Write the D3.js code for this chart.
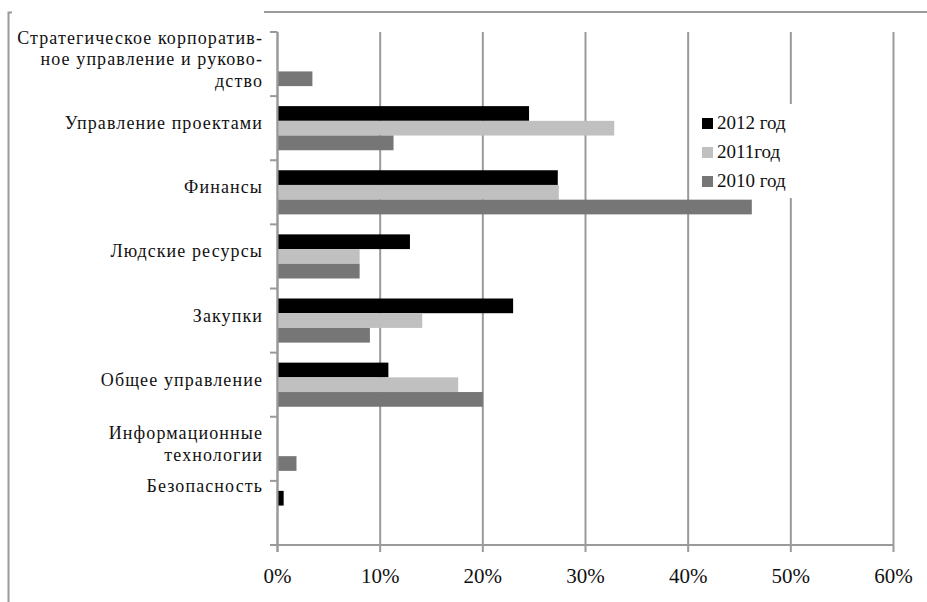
<!DOCTYPE html>
<html>
<head>
<meta charset="utf-8">
<script src="https://cdn.jsdelivr.net/npm/d3@7"></script>
<style>
  html, body { margin: 0; padding: 0; background: #fff; }
  svg { display: block; }
  svg text { font-family: "Liberation Serif", "Times New Roman", "DejaVu Serif", serif; fill: #111; }
</style>
</head>
<body>
<svg id="chart" width="927" height="602"></svg>
<script>
// Categories (top to bottom), each as the lines of its label
const categories = [
  "Стратегическое корпоратив-|ное управление и руково-|дство",
  "Управление проектами",
  "Финансы",
  "Людские ресурсы",
  "Закупки",
  "Общее управление",
  "Информационные|технологии",
  "Безопасность||"
];
const seriesNames = ["2012 год", "2011год", "2010 год"];
// Shares by category, in percent
const values2012 = [0, 24.5, 27.3, 12.9, 22.95, 10.8, 0, 0.6];
const values2011 = [0, 32.8, 27.4, 8.0, 14.1, 17.6, 0, 0];
const values2010 = [3.4, 11.3, 46.2, 8.0, 9.0, 20.0, 1.85, 0];
const xTicks = [0, 10, 20, 30, 40, 50, 60];
const seriesColors = ["#000000", "#c0c0c0", "#767676"];

const seriesValues = [values2012, values2011, values2010];
const rows = categories.map((c, i) => ({
  cat: c,
  vals: seriesNames.map((s, j) => ({ key: s, value: seriesValues[j][i] }))
}));

const svg = d3.select("#chart");
const gridColor = "#9a9a9a";

const x = d3.scaleLinear().domain([0, 60]).range([277.5, 893.5]);
const y0 = d3.scaleBand().domain(categories).range([32, 545]).padding(0);
const y1 = d3.scaleBand().domain(seriesNames).range([0, y0.bandwidth()])
  .paddingInner(0).paddingOuter(0.68);

// outer frame fragments
svg.append("line").attr("x1", 264).attr("x2", 927).attr("y1", 12).attr("y2", 12)
  .attr("stroke", gridColor).attr("stroke-width", 2);
svg.append("path").attr("d", "M12,12.5 H8.5 V602")
  .attr("fill", "none").attr("stroke", gridColor).attr("stroke-width", 2);

// vertical gridlines with ticks below the axis
svg.append("g").selectAll("line").data(xTicks).join("line")
  .attr("x1", d => x(d)).attr("x2", d => x(d))
  .attr("y1", 32).attr("y2", 552)
  .attr("stroke", gridColor).attr("stroke-width", 2);

// x axis line
svg.append("line").attr("x1", 270).attr("x2", x(60)).attr("y1", 545).attr("y2", 545)
  .attr("stroke", gridColor).attr("stroke-width", 2);

// category ticks on the left of the value axis
const bounds = d3.range(categories.length + 1).map(i => 32 + i * y0.step());
svg.append("g").selectAll("line").data(bounds).join("line")
  .attr("x1", 270).attr("x2", x(0))
  .attr("y1", d => d).attr("y2", d => d)
  .attr("stroke", gridColor).attr("stroke-width", 2);

// x tick labels
svg.append("g").selectAll("text").data(xTicks).join("text")
  .attr("x", d => x(d)).attr("y", 583)
  .attr("text-anchor", "middle").attr("font-size", 21)
  .text(d => d + "%");

// bars
const groups = svg.append("g").selectAll("g").data(rows).join("g")
  .attr("transform", d => `translate(0,${y0(d.cat)})`);
groups.selectAll("rect").data(d => d.vals).join("rect")
  .attr("x", x(0))
  .attr("y", d => y1(d.key))
  .attr("width", d => x(d.value) - x(0))
  .attr("height", y1.bandwidth())
  .attr("fill", (d, i) => seriesColors[i]);

// category labels
const lineH = 21.5;
const labels = svg.append("g").selectAll("text").data(categories).join("text")
  .attr("text-anchor", "end").attr("font-size", 18)
  .attr("letter-spacing", 1.1);
labels.each(function (c) {
  const lines = c.split("|");
  const cy = y0(c) + y0.bandwidth() / 2;
  const first = cy - (lines.length - 1) * lineH / 2;
  d3.select(this).selectAll("tspan").data(lines).join("tspan")
    .attr("x", 263).attr("y", (l, i) => first + i * lineH + 1)
    .text(l => l);
});

// y axis line
svg.append("line").attr("x1", x(0)).attr("x2", x(0)).attr("y1", 32).attr("y2", 552)
  .attr("stroke", gridColor).attr("stroke-width", 2);

// legend
const legend = svg.append("g");
legend.append("rect").attr("x", 692).attr("y", 104).attr("width", 108).attr("height", 94)
  .attr("fill", "#fff");
seriesNames.forEach((s, i) => {
  const ly = 118 + i * 29;
  legend.append("rect").attr("x", 702).attr("y", ly).attr("width", 11).attr("height", 11)
    .attr("fill", seriesColors[i]);
  legend.append("text").attr("x", 717).attr("y", ly + 11).attr("font-size", 19).text(s);
});
</script>
</body>
</html>
